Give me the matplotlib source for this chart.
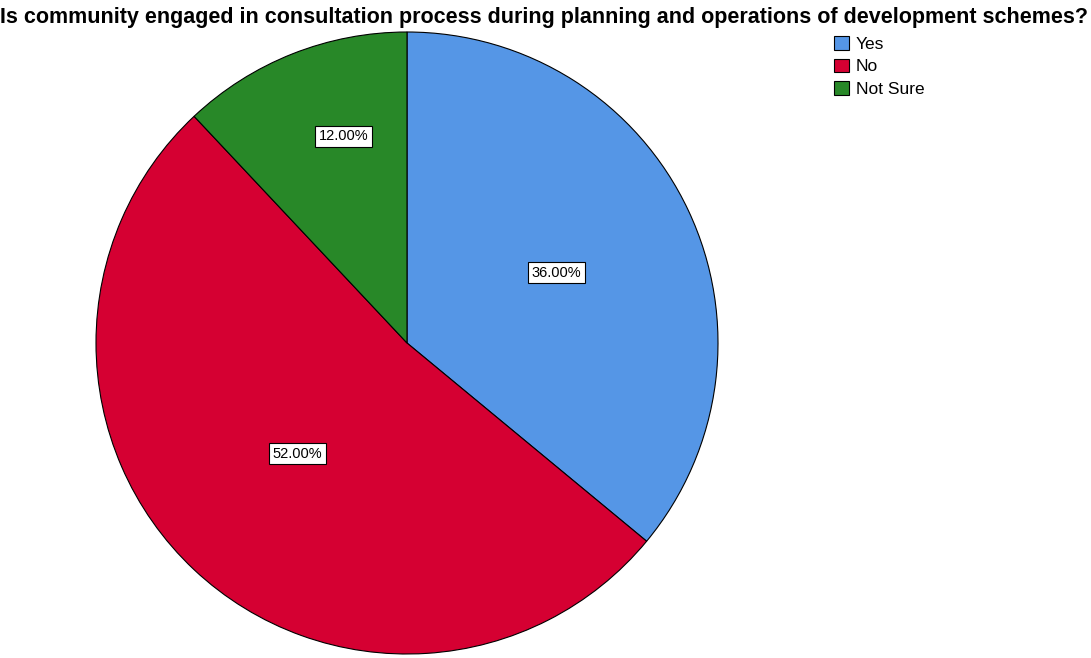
import numpy as np
import matplotlib.pyplot as plt
from matplotlib.patches import Patch

plt.rcParams['font.family'] = ['Liberation Sans', 'DejaVu Sans']

# survey responses
categories = ['Yes', 'No', 'Not Sure']
percentages = [36.0, 52.0, 12.0]
colors = ['#5596E6', '#D50032', '#288828']
label_radius = [0.53, 0.50, 0.695]
label_shift = [0, -1.5, -4.5]  # degrees, nudges label off the wedge bisector

W, H = 1091, 658
fig = plt.figure(figsize=(W / 100, H / 100), dpi=100)

# pie axes: centre (407, 343) px, radius 311 px
cx, cy, r = 407, 343, 311
ax = fig.add_axes([(cx - r) / W, (H - cy - r) / H, 2 * r / W, 2 * r / H])
wedges, _ = ax.pie(percentages, colors=colors, startangle=90, counterclock=False,
                   radius=1, wedgeprops=dict(edgecolor='black', linewidth=0.8))
ax.set_xlim(-1, 1)
ax.set_ylim(-1, 1)
ax.set_aspect('equal')
ax.axis('off')

for w, pct, rr, sh in zip(wedges, percentages, label_radius, label_shift):
    ang = np.deg2rad((w.theta1 + w.theta2) / 2 + sh)
    ax.text(rr * np.cos(ang), rr * np.sin(ang), f'{pct:.2f}%', ha='center', va='center',
            fontsize=10.5,
            bbox=dict(boxstyle='square,pad=0.25', facecolor='white', edgecolor='black', linewidth=0.8))

fig.text(0.4985, 1 - 17 / H, 'Is community engaged in consultation process during planning and operations of development schemes?',
         ha='center', va='center', fontsize=15.5, fontweight='bold')

handles = [Patch(facecolor=c, edgecolor='black', linewidth=0.8, label=l) for c, l in zip(colors, categories)]
fig.legend(handles=handles, loc='upper left', bbox_to_anchor=(834 / W, 1 - 36 / H), frameon=False,
           fontsize=12.5, handlelength=0.85, handleheight=0.85, handletextpad=0.4, labelspacing=0.38,
           borderaxespad=0, borderpad=0)

fig.savefig('out.png', dpi=100, facecolor='white')
